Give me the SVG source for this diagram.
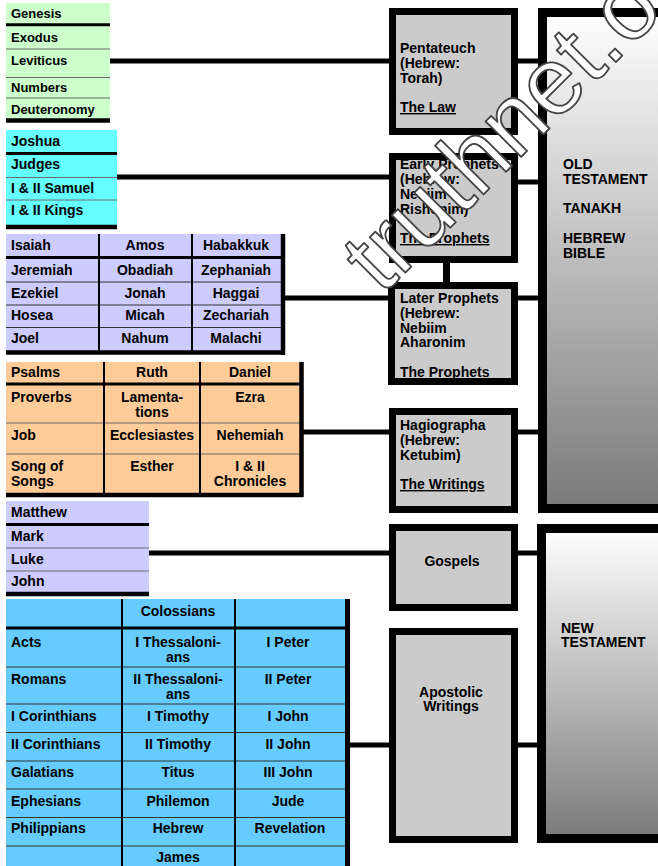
<svg xmlns="http://www.w3.org/2000/svg" width="658" height="866" viewBox="0 0 658 866">
<defs>
<linearGradient id="grey" x1="0" y1="0" x2="0" y2="1">
<stop offset="0" stop-color="#ffffff"/>
<stop offset="1" stop-color="#7a7a7a"/>
</linearGradient>
<style>
text{font-family:"Liberation Sans",Arial,sans-serif;font-weight:bold;font-size:14px;fill:#000}
.s13{font-size:13px}
.c{text-anchor:middle}
.u{text-decoration:underline}
.thick{stroke:#000;stroke-width:3}
.thin{stroke:#6a6a6a;stroke-width:1}
.dk{stroke:#333;stroke-width:1.2}
.col{stroke:#000;stroke-width:2}
.brd{stroke:#000;stroke-width:4.5}
.box{fill:#cbcbcb;stroke:#000;stroke-width:7}
.big{fill:url(#grey);stroke:#000;stroke-width:9}
.con{stroke:#000;stroke-width:5;fill:none}
.wm{font-family:"Liberation Sans",Arial,sans-serif;font-weight:normal;font-size:95px;fill:#fff;stroke:#444;stroke-width:1.8;stroke-linejoin:round}
</style>
</defs>
<rect width="658" height="866" fill="#fff"/>

<g id="connectors">
<line class="con" x1="110" y1="61" x2="390" y2="61"/>
<line class="con" x1="515" y1="61" x2="540" y2="61"/>
<line class="con" x1="117" y1="177" x2="390" y2="177"/>
<line class="con" x1="515" y1="182" x2="540" y2="182"/>
<line x1="446.5" y1="260" x2="446.5" y2="285" stroke="#000" stroke-width="7"/>
<line class="con" x1="285" y1="298" x2="390" y2="298"/>
<line class="con" x1="515" y1="298" x2="540" y2="298"/>
<line class="con" x1="303" y1="432" x2="390" y2="432"/>
<line class="con" x1="515" y1="432" x2="540" y2="432"/>
<line class="con" x1="149" y1="553" x2="390" y2="553"/>
<line class="con" x1="515" y1="553" x2="540" y2="553"/>
<line class="con" x1="349" y1="745" x2="390" y2="745"/>
<line class="con" x1="515" y1="745" x2="540" y2="745"/>
</g>

<g id="pentateuch-books">
<rect x="6" y="3" width="104" height="117" fill="#ccffcc"/>
<line class="thick" x1="6" y1="24.7" x2="110" y2="24.7"/>
<line class="thin" x1="6" y1="49" x2="110" y2="49"/>
<line class="thin" x1="6" y1="77.5" x2="110" y2="77.5"/>
<line class="thin" x1="6" y1="98" x2="110" y2="98"/>
<line x1="6" y1="120.5" x2="110" y2="120.5" stroke="#000" stroke-width="4.5"/>
<text class="s13" x="11" y="18">Genesis</text>
<text class="s13" x="11" y="42">Exodus</text>
<text class="s13" x="11" y="65">Leviticus</text>
<text class="s13" x="11" y="92">Numbers</text>
<text class="s13" x="11" y="114">Deuteronomy</text>
</g>

<g id="early-prophets-books">
<rect x="6" y="130" width="111" height="97" fill="#66ffff"/>
<line class="thick" x1="6" y1="153.5" x2="117" y2="153.5"/>
<line class="thin" x1="6" y1="177.5" x2="117" y2="177.5"/>
<line class="thin" x1="6" y1="200" x2="117" y2="200"/>
<line x1="6" y1="227" x2="117" y2="227" stroke="#000" stroke-width="4.5"/>
<text x="11" y="146">Joshua</text>
<text x="11" y="169">Judges</text>
<text x="11" y="193">I &amp; II Samuel</text>
<text x="11" y="215">I &amp; II Kings</text>
</g>

<g id="later-prophets-books">
<rect x="6" y="234" width="276" height="118" fill="#ccccff"/>
<line class="thick" x1="6" y1="257.5" x2="282" y2="257.5"/>
<line class="dk" x1="6" y1="282" x2="282" y2="282"/>
<line class="dk" x1="6" y1="305" x2="282" y2="305"/>
<line class="dk" x1="6" y1="327.5" x2="282" y2="327.5"/>
<line class="col" x1="99" y1="234" x2="99" y2="352"/>
<line class="col" x1="192" y1="234" x2="192" y2="352"/>
<line class="brd" x1="283" y1="234" x2="283" y2="355"/>
<line class="brd" x1="6" y1="352.5" x2="285" y2="352.5"/>
<text x="11" y="250">Isaiah</text><text class="c" x="145" y="250">Amos</text><text class="c" x="236" y="250">Habakkuk</text>
<text x="11" y="275">Jeremiah</text><text class="c" x="145" y="275">Obadiah</text><text class="c" x="236" y="275">Zephaniah</text>
<text x="11" y="298">Ezekiel</text><text class="c" x="145" y="298">Jonah</text><text class="c" x="236" y="298">Haggai</text>
<text x="11" y="320">Hosea</text><text class="c" x="145" y="320">Micah</text><text class="c" x="236" y="320">Zechariah</text>
<text x="11" y="343">Joel</text><text class="c" x="145" y="343">Nahum</text><text class="c" x="236" y="343">Malachi</text>
</g>

<g id="writings-books">
<rect x="6" y="362" width="294" height="131" fill="#ffcc99"/>
<line class="thick" x1="6" y1="384" x2="300" y2="384"/>
<line class="thin" x1="6" y1="423" x2="300" y2="423"/>
<line class="thin" x1="6" y1="454" x2="300" y2="454"/>
<line class="col" x1="104" y1="362" x2="104" y2="494"/>
<line class="col" x1="200" y1="362" x2="200" y2="494"/>
<line class="brd" x1="301.5" y1="362" x2="301.5" y2="497"/>
<line class="brd" x1="6" y1="495" x2="303" y2="495"/>
<text x="11" y="377">Psalms</text><text class="c" x="152" y="377">Ruth</text><text class="c" x="250" y="377">Daniel</text>
<text x="11" y="402">Proverbs</text><text class="c" x="152" y="402">Lamenta-</text><text class="c" x="152" y="417">tions</text><text class="c" x="250" y="402">Ezra</text>
<text x="11" y="440">Job</text><text class="c" x="152" y="440">Ecclesiastes</text><text class="c" x="250" y="440">Nehemiah</text>
<text x="11" y="471">Song of</text><text x="11" y="486">Songs</text><text class="c" x="152" y="471">Esther</text><text class="c" x="250" y="471">I &amp; II</text><text class="c" x="250" y="486">Chronicles</text>
</g>

<g id="gospel-books">
<rect x="6" y="501" width="143" height="92" fill="#ccccff"/>
<line class="thick" x1="6" y1="524.5" x2="149" y2="524.5"/>
<line class="thin" x1="6" y1="548" x2="149" y2="548"/>
<line class="thin" x1="6" y1="571" x2="149" y2="571"/>
<line x1="6" y1="594" x2="149" y2="594" stroke="#000" stroke-width="4.5"/>
<text x="11" y="517">Matthew</text>
<text x="11" y="541">Mark</text>
<text x="11" y="564">Luke</text>
<text x="11" y="586">John</text>
</g>

<g id="apostolic-books">
<rect x="6" y="599" width="340" height="267" fill="#66ccff"/>
<line class="thick" x1="6" y1="628" x2="346" y2="628"/>
<line class="dk" x1="6" y1="667" x2="346" y2="667"/>
<line class="dk" x1="6" y1="704" x2="346" y2="704"/>
<line class="dk" x1="6" y1="732.5" x2="346" y2="732.5"/>
<line class="dk" x1="6" y1="761" x2="346" y2="761"/>
<line class="dk" x1="6" y1="789" x2="346" y2="789"/>
<line class="dk" x1="6" y1="817.5" x2="346" y2="817.5"/>
<line class="dk" x1="6" y1="846" x2="346" y2="846"/>
<line class="col" x1="122" y1="599" x2="122" y2="866"/>
<line class="col" x1="235" y1="599" x2="235" y2="866"/>
<line x1="347.5" y1="599" x2="347.5" y2="866" stroke="#000" stroke-width="5"/>
<text class="c" x="178" y="616">Colossians</text>
<text x="11" y="647">Acts</text><text class="c" x="178" y="647">I Thessaloni-</text><text class="c" x="178" y="662">ans</text><text class="c" x="288" y="647">I Peter</text>
<text x="11" y="684">Romans</text><text class="c" x="178" y="684">II Thessaloni-</text><text class="c" x="178" y="699">ans</text><text class="c" x="288" y="684">II Peter</text>
<text x="11" y="721">I Corinthians</text><text class="c" x="178" y="721">I Timothy</text><text class="c" x="288" y="721">I John</text>
<text x="11" y="749">II Corinthians</text><text class="c" x="178" y="749">II Timothy</text><text class="c" x="288" y="749">II John</text>
<text x="11" y="777">Galatians</text><text class="c" x="178" y="777">Titus</text><text class="c" x="288" y="777">III John</text>
<text x="11" y="806">Ephesians</text><text class="c" x="178" y="806">Philemon</text><text class="c" x="288" y="806">Jude</text>
<text x="11" y="833">Philippians</text><text class="c" x="178" y="833">Hebrew</text><text class="c" x="290" y="833">Revelation</text>
<text class="c" x="178" y="862">James</text>
</g>

<g id="pentateuch">
<rect class="box" x="392.5" y="11.5" width="122" height="120"/>
<text x="400" y="53">Pentateuch</text>
<text x="400" y="68">(Hebrew:</text>
<text x="400" y="83">Torah)</text>
<text class="u" x="400" y="112">The Law</text>
</g>

<g id="early-prophets">
<rect class="box" x="392.5" y="156.5" width="122" height="103"/>
<text x="400" y="169">Early Prophets</text>
<text x="400" y="184">(Hebrew:</text>
<text x="400" y="199">Nebiim</text>
<text x="400" y="214">Rishonim)</text>
<text class="u" x="400" y="243">The Prophets</text>
</g>

<g id="later-prophets">
<rect class="box" x="391.5" y="285.5" width="123" height="96"/>
<text x="400" y="303">Later Prophets</text>
<text x="400" y="318">(Hebrew:</text>
<text x="400" y="333">Nebiim</text>
<text x="400" y="347">Aharonim</text>
<text class="u" x="400" y="377">The Prophets</text>
</g>

<g id="hagiographa">
<rect class="box" x="392.5" y="411.5" width="122" height="98"/>
<text x="400" y="430">Hagiographa</text>
<text x="400" y="445">(Hebrew:</text>
<text x="400" y="460">Ketubim)</text>
<text class="u" x="400" y="489">The Writings</text>
</g>

<g id="gospels">
<rect class="box" x="392.5" y="527.5" width="122" height="80"/>
<text class="c" x="452" y="566">Gospels</text>
</g>

<g id="apostolic-writings">
<rect class="box" x="392.5" y="631.5" width="122" height="208"/>
<text class="c" x="451" y="697">Apostolic</text>
<text class="c" x="451" y="711">Writings</text>
</g>

<g id="old-testament">
<rect class="big" x="542.5" y="12.5" width="200" height="496"/>
<text x="563" y="169">OLD</text>
<text x="563" y="184">TESTAMENT</text>
<text x="563" y="213">TANAKH</text>
<text x="563" y="243">HEBREW</text>
<text x="563" y="258">BIBLE</text>
</g>

<g id="new-testament">
<rect class="big" x="541.5" y="528.5" width="200" height="310"/>
<text x="561" y="633">NEW</text>
<text x="561" y="647">TESTAMENT</text>
</g>

<text class="wm" transform="translate(382,296) rotate(-45)">truthnet.org</text>
</svg>
